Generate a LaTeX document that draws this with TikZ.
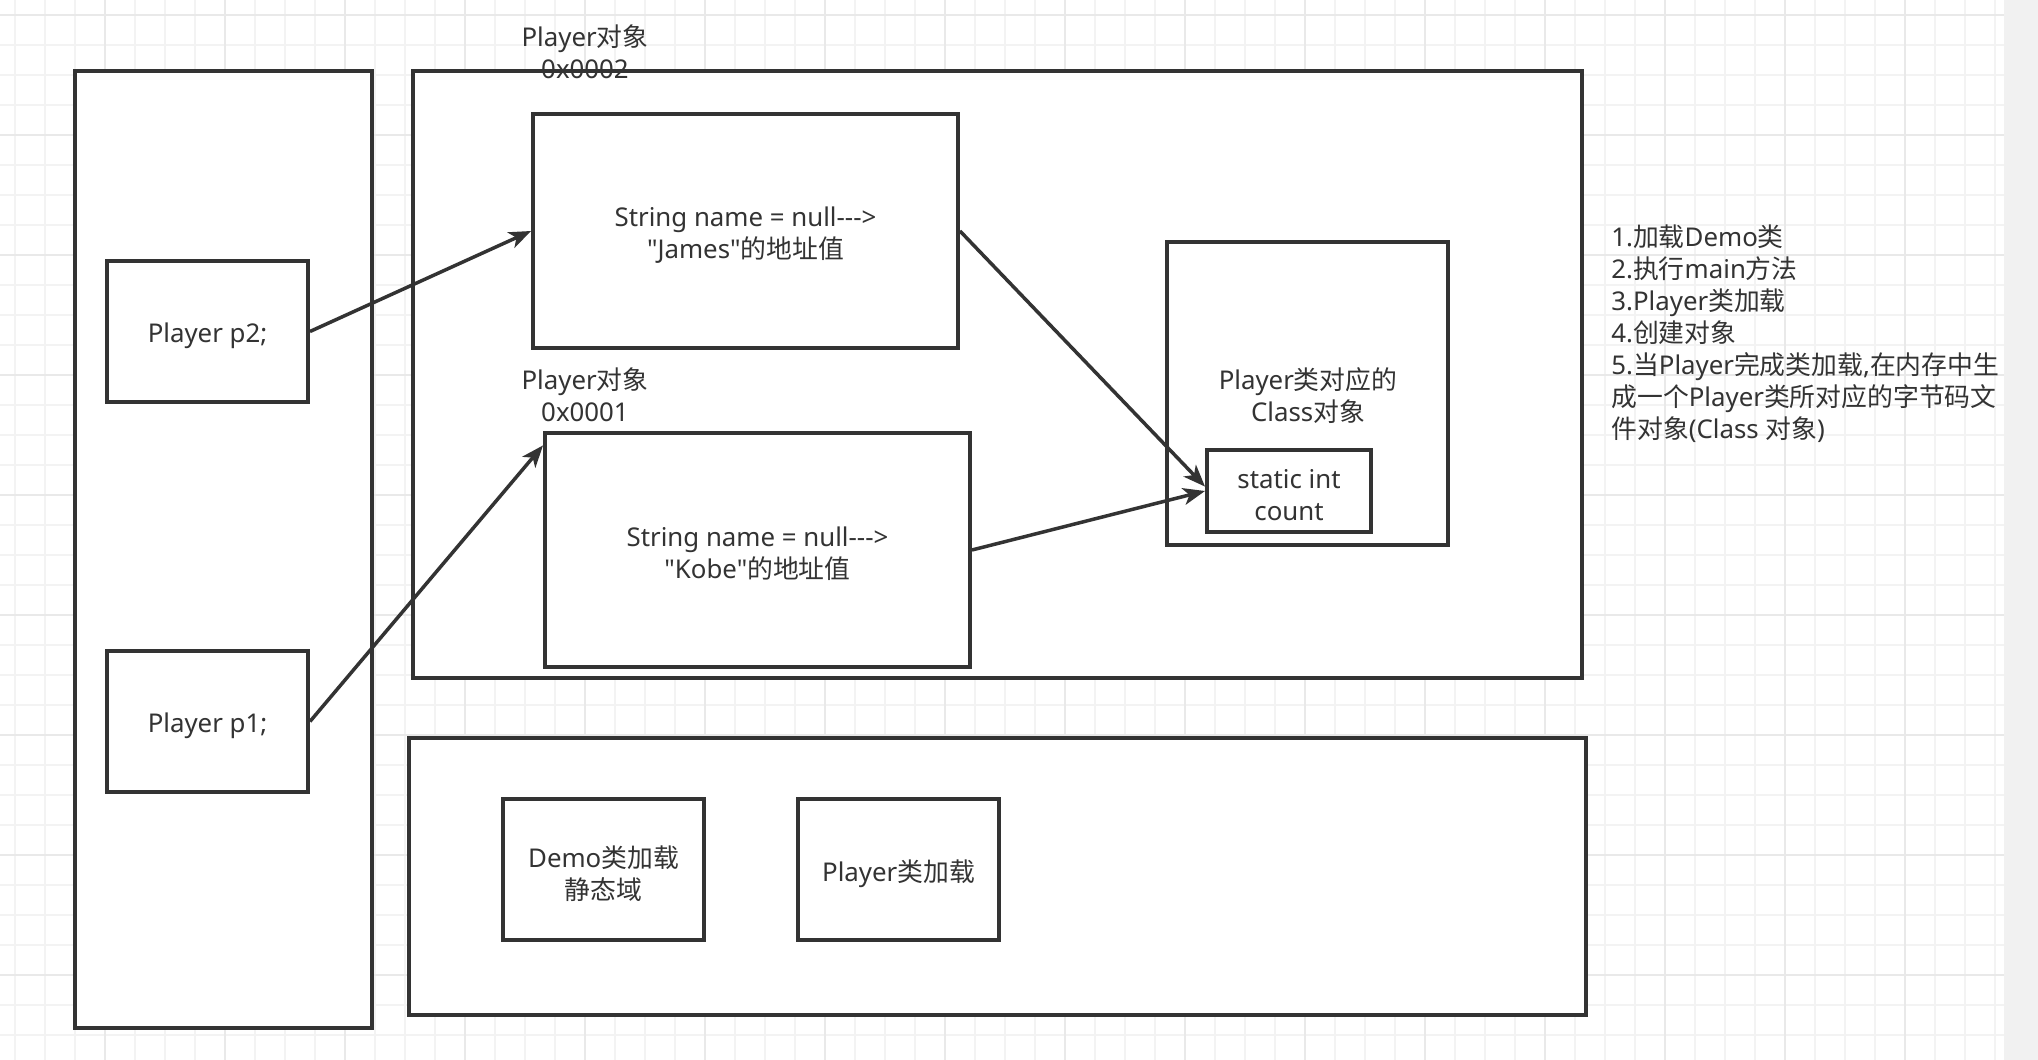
\documentclass[tikz,border=0pt]{standalone}
\usepackage{fontspec}
\newfontfamily\enfont{Noto Sans}
\newfontfamily\zhfont{Noto Sans CJK SC}
\newcommand{\zh}[1]{{\zhfont #1}}
\usetikzlibrary{positioning, arrows.meta}
\definecolor{ink}{HTML}{333333}
\definecolor{gridminor}{HTML}{F3F3F3}
\definecolor{gridmajor}{HTML}{E9E9E9}
\definecolor{sidebar}{HTML}{F1F1F1}
\tikzset{
  box/.style={draw=ink, fill=white, line width=0.08cm, rectangle, inner sep=0pt},
  txt/.style={text=ink, font=\enfont\fontsize{14.7}{18.2}\selectfont, align=center, inner sep=0pt},
  boxtext/.style={label={[txt, yshift=-0.08cm]center:{#1}}},
  arr/.style={draw=ink, line width=0.07cm, -{Stealth[length=0.44cm, width=0.34cm, inset=0.12cm]}},
  minorgrid/.style={draw=gridminor, line width=0.04cm},
  majorgrid/.style={draw=gridmajor, line width=0.04cm},
}
\begin{document}
\begin{tikzpicture}[x=0.02cm, y=-0.02cm]
    \useasboundingbox (0,0) rectangle (2038,1060);

    % Grid paper
    \fill[white] (0,0) rectangle (2004,1060);
    \fill[sidebar] (2004,0) rectangle (2038,1060);
    \foreach \gx in {15,45,...,1995} \draw[minorgrid] (\gx,0) -- (\gx,1060);
    \foreach \gy in {15,45,...,1045} \draw[minorgrid] (0,\gy) -- (2004,\gy);
    \foreach \gx in {105,225,...,1985} \draw[majorgrid] (\gx,0) -- (\gx,1060);
    \foreach \gy in {15,135,...,1035} \draw[majorgrid] (0,\gy) -- (2004,\gy);

    % Memory areas
    \node[box, minimum width=5.94cm, minimum height=19.14cm] (stack) at (223.5,549.5) {};
    \node[box, minimum width=23.38cm, minimum height=12.14cm] (heap) at (997.5,374.5) {};
    \node[box, minimum width=23.54cm, minimum height=5.54cm] (method) at (997.5,876.5) {};

    % Stack
    \node[box, minimum width=4.02cm, minimum height=2.82cm, boxtext={Player p2;}] (p2) at (207.5,331.5) {};
    \node[box, minimum width=4.02cm, minimum height=2.82cm, boxtext={Player p1;}] (p1) at (207.5,721.5) {};

    % Heap
    \node[box, minimum width=8.5cm, minimum height=4.68cm, boxtext={String name = null-\kern0pt-\kern0pt->\\"James"\zh{的地址值}}] (james) at (745.5,231) {};
    \node[box, minimum width=8.5cm, minimum height=4.68cm, boxtext={String name = null-\kern0pt-\kern0pt->\\"Kobe"\zh{的地址值}}] (kobe) at (757.5,550) {};
    \node[box, minimum width=5.62cm, minimum height=6.06cm] (classobj) at (1307.5,393.5) {};
    \node[txt] (classlbl) at (1308,395.5) {Player\zh{类对应的}\\Class\zh{对象}};
    \node[box, minimum width=3.28cm, minimum height=1.64cm, boxtext={static int\\count}] (count) at (1289,491) {};
    \node[txt] (obj2) at (585,52) {Player\zh{对象}\\0x0002};
    \node[txt] (obj1) at (585,395) {Player\zh{对象}\\0x0001};

    % Method area
    \node[box, minimum width=4.02cm, minimum height=2.82cm, boxtext={Demo\zh{类加载}\\\zh{静态域}}] (demo) at (603.5,869.5) {};
    \node[box, minimum width=4.02cm, minimum height=2.82cm, boxtext={Player\zh{类加载}}] (playerload) at (898.5,869.5) {};

    % Notes
    \node[txt, align=left, anchor=west] (steps) at (1611,334) {1.\zh{加载}Demo\zh{类}\\2.\zh{执行}main\zh{方法}\\3.Player\zh{类加载}\\4.\zh{创建对象}\\5.\zh{当}Player\zh{完成类加载},\zh{在内存中生}\\\zh{成一个}Player\zh{类所对应的字节码文}\\\zh{件对象}(Class \zh{对象})};

    % Draw edges
    \draw[arr] (p2.east) -- (james.west);
    \draw[arr] (p1.east) -- (kobe.154);
    \draw[arr] (james.east) -- (count.177);
    \draw[arr] (kobe.east) -- (count.west);

\end{tikzpicture}
\end{document}
